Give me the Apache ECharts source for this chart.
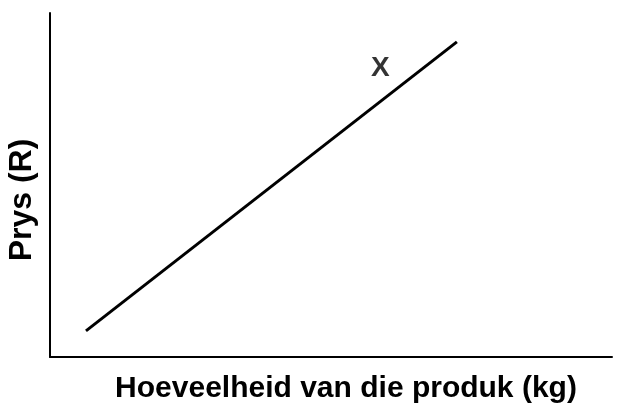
<!DOCTYPE html>
<html>
<head>
<meta charset="utf-8">
<script src="https://cdn.jsdelivr.net/npm/echarts@6/dist/echarts.min.js"></script>
<style>
  html, body { margin: 0; padding: 0; background: #fff; }
  #chart { width: 617px; height: 409px; }
</style>
</head>
<body>
<div id="chart"></div>
<script>
// supply line (quantity -> price), axes run 0..100 without ticks
const lineX = [6.4, 72.4];
const lineY = [7.6, 91.6];
const pointLabels = ['X'];
const labelX = [58.8];
const labelY = [84.0];
const xTitle = 'Hoeveelheid van die produk (kg)';
const yTitle = 'Prys (R)';

const chart = echarts.init(document.getElementById('chart'));
const fontFam = 'Liberation Sans, Arial, sans-serif';

const option = {
    animation: false,
    grid: { left: 50, right: 5, top: 13, bottom: 52 },
    xAxis: {
        type: 'value', min: 0, max: 100,
        axisLine: { show: true, onZero: false, lineStyle: { color: '#000', width: 2 } },
        axisTick: { show: false },
        axisLabel: { show: false },
        splitLine: { show: false }
    },
    yAxis: {
        type: 'value', min: 0, max: 100,
        axisLine: { show: true, onZero: false, lineStyle: { color: '#000', width: 2 } },
        axisTick: { show: false },
        axisLabel: { show: false },
        splitLine: { show: false }
    },
    series: [
        {
            type: 'line',
            data: lineX.map((x, i) => [x, lineY[i]]),
            symbol: 'none',
            lineStyle: { color: '#000', width: 3 }
        },
        {
            type: 'scatter',
            data: labelX.map((x, i) => ({ value: [x, labelY[i]], name: pointLabels[i] })),
            symbolSize: 0,
            label: {
                show: true, position: 'inside',
                formatter: p => p.name,
                color: '#000', fontSize: 28, fontWeight: 'bold', fontFamily: fontFam
            }
        }
    ],
    graphic: [
        {
            type: 'text', x: 346, y: 389,
            style: {
                text: xTitle, fill: '#000', font: 'bold 30px ' + fontFam,
                align: 'center', verticalAlign: 'middle'
            }
        },
        {
            type: 'text', x: 22, y: 200, rotation: Math.PI / 2,
            style: {
                text: yTitle, fill: '#000', font: 'bold 32px ' + fontFam,
                align: 'center', verticalAlign: 'middle'
            }
        }
    ]
};

chart.setOption(option);
</script>
</body>
</html>
